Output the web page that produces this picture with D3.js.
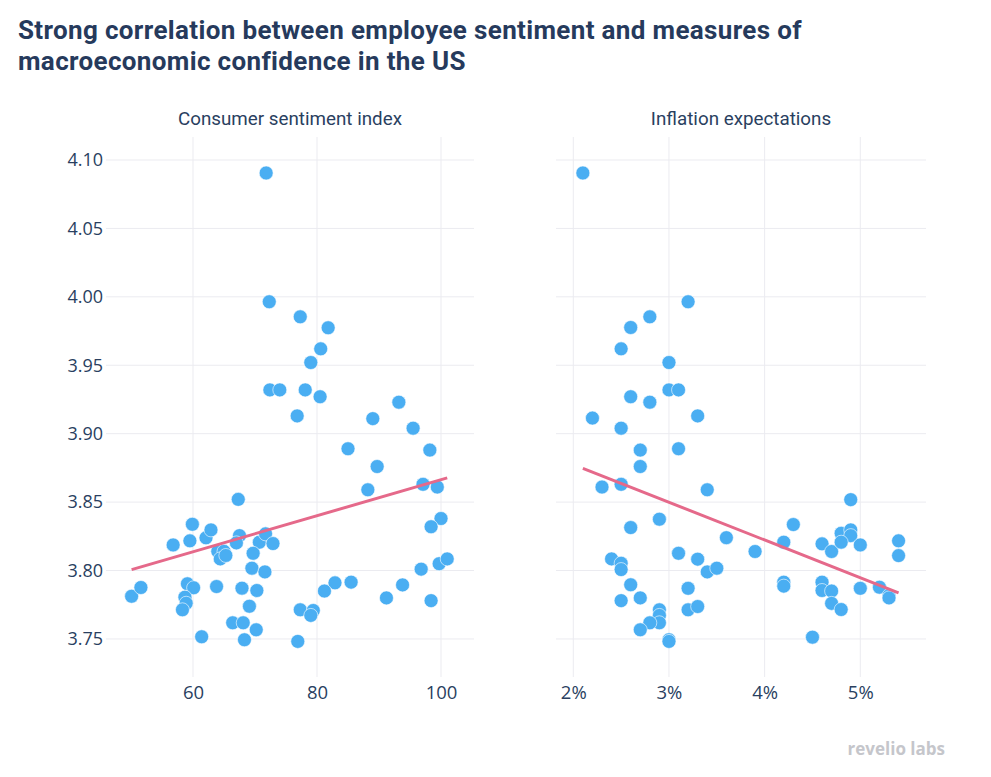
<!DOCTYPE html>
<html>
<head>
<meta charset="utf-8">
<script src="https://cdn.jsdelivr.net/npm/d3@7"></script>
<style>
  html, body { margin: 0; padding: 0; background: #ffffff; }
  svg { display: block; }
</style>
</head>
<body>
<svg id="chart" width="991" height="777"></svg>
<script>
// ---------------- DATA ----------------
const titleLines = [
  "Strong correlation between employee sentiment and measures of",
  "macroeconomic confidence in the US"
];
const panelTitles = ["Consumer sentiment index", "Inflation expectations"];

const yTicks = [3.75, 3.80, 3.85, 3.90, 3.95, 4.00, 4.05, 4.10];
const consumerTicks = [60, 80, 100];
const inflationTicks = [2, 3, 4, 5];

// Consumer sentiment index (x) vs employee sentiment (y)
const consumerX = [
  71.8, 72.3, 77.3, 81.8, 80.6, 79.0, 72.4, 74.0, 78.1, 80.5,
  76.8, 89.0, 93.2, 95.5, 85.0, 98.2, 89.7, 88.2, 97.1, 99.4,
  100.0, 98.4, 67.3, 99.7, 101.0, 96.8, 93.8, 91.2, 98.4, 85.5,
  82.9, 81.2, 77.3, 79.4, 79.0, 76.9,
  50.1, 51.6, 56.8, 59.9, 59.5, 62.1, 62.9, 67.5, 67.0, 64.0,
  65.0, 64.4, 65.3, 70.7, 71.7, 72.9, 69.7, 69.5, 71.6, 59.1,
  60.1, 58.7, 58.9, 58.3, 63.8, 67.9, 70.3, 69.1, 61.4, 66.4,
  68.1, 70.2, 68.3
];
const consumerY = [
  4.0905, 3.9964, 3.9854, 3.9774, 3.9620, 3.9520, 3.9320, 3.9320, 3.9320, 3.9270,
  3.9130, 3.9110, 3.9230, 3.9040, 3.8890, 3.8880, 3.8760, 3.8590, 3.8630, 3.8610,
  3.8380, 3.8320, 3.8520, 3.8050, 3.8085, 3.8010, 3.7895, 3.7800, 3.7780, 3.7915,
  3.7910, 3.7850, 3.7713, 3.7708, 3.7672, 3.7482,
  3.7812, 3.7876, 3.8187, 3.8338, 3.8217, 3.8239, 3.8297, 3.8255, 3.8202, 3.8140,
  3.8140, 3.8085, 3.8110, 3.8207, 3.8268, 3.8197, 3.8126, 3.8017, 3.7990, 3.7903,
  3.7874, 3.7805, 3.7761, 3.7713, 3.7883, 3.7871, 3.7854, 3.7739, 3.7516, 3.7618,
  3.7618, 3.7567, 3.7494
];
const consumerTrendX = [50.1, 101.0];
const consumerTrendY = [3.8007, 3.8677];

// Inflation expectations (%) vs employee sentiment (y)
const inflationX = [
  2.1, 3.2, 2.8, 2.6, 2.5, 3.0, 3.0, 3.1, 2.6, 2.8,
  2.2, 3.3,
  2.5, 2.7, 3.1, 2.7, 2.3, 2.5, 3.4, 2.9, 2.6, 3.6,
  3.1, 3.3, 2.4, 2.5, 2.5, 3.4, 3.5, 2.6, 3.2, 2.5,
  2.7,
  2.9, 2.9, 2.9, 2.8, 2.7, 3.2, 3.3, 3.0, 3.0,
  3.9, 4.2, 4.2, 4.2, 4.3, 4.5,
  4.6, 4.7, 4.9, 4.8, 4.9, 4.9, 4.8, 5.0, 5.4, 5.4,
  4.6, 4.6, 4.7, 4.7, 4.8, 5.0, 5.2, 5.3, 5.3
];
const inflationY = [
  4.0905, 3.9964, 3.9854, 3.9776, 3.9620, 3.9520, 3.9320, 3.9320, 3.9270, 3.9230,
  3.9114, 3.9130,
  3.9040, 3.8880, 3.8890, 3.8760, 3.8610, 3.8630, 3.8590, 3.8375, 3.8314, 3.8240,
  3.8126, 3.8083, 3.8085, 3.8053, 3.8007, 3.7990, 3.8017, 3.7896, 3.7870, 3.7780,
  3.7800,
  3.7713, 3.7672, 3.7618, 3.7618, 3.7567, 3.7713, 3.7737, 3.7494, 3.7482,
  3.8139, 3.8207, 3.7915, 3.7886, 3.8336, 3.7513,
  3.8195, 3.8139, 3.8518, 3.8272, 3.8297, 3.8255, 3.8207, 3.8187, 3.8217, 3.8109,
  3.7915, 3.7854, 3.7850, 3.7760, 3.7715, 3.7870, 3.7878, 3.7817, 3.7800
];
const inflationTrendX = [2.1, 5.4];
const inflationTrendY = [3.8747, 3.7837];

// ---------------- STYLE / LAYOUT ----------------
const textColor = "#2a3f5f";
const gridColor = "#ebebf0";
const pointColor = "#4aaef2";
const lineColor = "#e5698a";

const svg = d3.select("#chart");
svg.append("rect").attr("width", 991).attr("height", 777).attr("fill", "#fff");

const plotTop = 137, plotBottom = 677;
const y = d3.scaleLinear().domain([3.7222, 4.1168]).range([plotBottom, plotTop]);

const panels = [
  {
    title: panelTitles[0], left: 106, right: 474,
    domain: [45.97, 105.32], ticks: consumerTicks, fmt: d => d3.format("d")(d),
    xs: consumerX, ys: consumerY, tx: consumerTrendX, ty: consumerTrendY, showY: true
  },
  {
    title: panelTitles[1], left: 556, right: 926,
    domain: [1.8191, 5.6867], ticks: inflationTicks, fmt: d => d + "%",
    xs: inflationX, ys: inflationY, tx: inflationTrendX, ty: inflationTrendY, showY: false
  }
];

// Title
svg.append("g").selectAll("text").data(titleLines).join("text")
  .attr("x", 18).attr("y", (d, i) => 39 + i * 30.6)
  .attr("font-family", "Roboto, 'Noto Sans', sans-serif")
  .attr("font-weight", 700).attr("font-size", 26)
  .attr("letter-spacing", 0.35)
  .attr("fill", "#263a5c").text(d => d);

panels.forEach(p => {
  const x = d3.scaleLinear().domain(p.domain).range([p.left, p.right]);
  const g = svg.append("g");

  // grid
  g.append("g").selectAll("line").data(yTicks).join("line")
    .attr("x1", p.left).attr("x2", p.right)
    .attr("y1", d => y(d)).attr("y2", d => y(d))
    .attr("stroke", gridColor).attr("stroke-width", 1);
  g.append("g").selectAll("line").data(p.ticks).join("line")
    .attr("x1", d => x(d)).attr("x2", d => x(d))
    .attr("y1", plotTop).attr("y2", plotBottom)
    .attr("stroke", gridColor).attr("stroke-width", 1);

  // x axis labels
  const xAxis = d3.axisBottom(x).tickValues(p.ticks).tickFormat(p.fmt).tickSize(0).tickPadding(0);
  const xa = g.append("g").attr("transform", `translate(0,${plotBottom})`).call(xAxis);
  xa.select(".domain").remove();
  xa.selectAll("text")
    .attr("dy", null).attr("y", 22)
    .attr("font-family", "'Open Sans', sans-serif").attr("font-size", 18.5)
    .attr("fill", textColor);

  if (p.showY) {
    const yAxis = d3.axisLeft(y).tickValues(yTicks).tickFormat(d3.format(".2f")).tickSize(0).tickPadding(3);
    const ya = g.append("g").attr("transform", `translate(${p.left},0)`).call(yAxis);
    ya.select(".domain").remove();
    ya.selectAll("text")
      .attr("font-family", "'Open Sans', sans-serif").attr("font-size", 18)
      .attr("fill", textColor);
  }

  // panel title
  g.append("text")
    .attr("x", (p.left + p.right) / 2).attr("y", 125)
    .attr("text-anchor", "middle")
    .attr("font-family", "Roboto, 'Noto Sans', sans-serif")
    .attr("font-size", 18.8).attr("fill", textColor)
    .text(p.title);

  // points
  const pts = p.xs.map((v, i) => [v, p.ys[i]]);
  g.append("g").selectAll("circle").data(pts).join("circle")
    .attr("cx", d => x(d[0])).attr("cy", d => y(d[1]))
    .attr("r", 7)
    .attr("fill", pointColor)
    .attr("stroke", "#ffffff").attr("stroke-width", 0.6);

  // trend line
  const trend = p.tx.map((v, i) => [v, p.ty[i]]);
  g.append("path")
    .attr("d", d3.line().x(d => x(d[0])).y(d => y(d[1]))(trend))
    .attr("fill", "none").attr("stroke", lineColor).attr("stroke-width", 3);
});

// logo
svg.append("text")
  .attr("x", 945).attr("y", 755).attr("text-anchor", "end")
  .attr("font-family", "'Open Sans', 'DejaVu Sans', sans-serif")
  .attr("font-weight", 700).attr("font-size", 17)
  .attr("fill", "#c5c6cb").text("revelio labs");
</script>
</body>
</html>
